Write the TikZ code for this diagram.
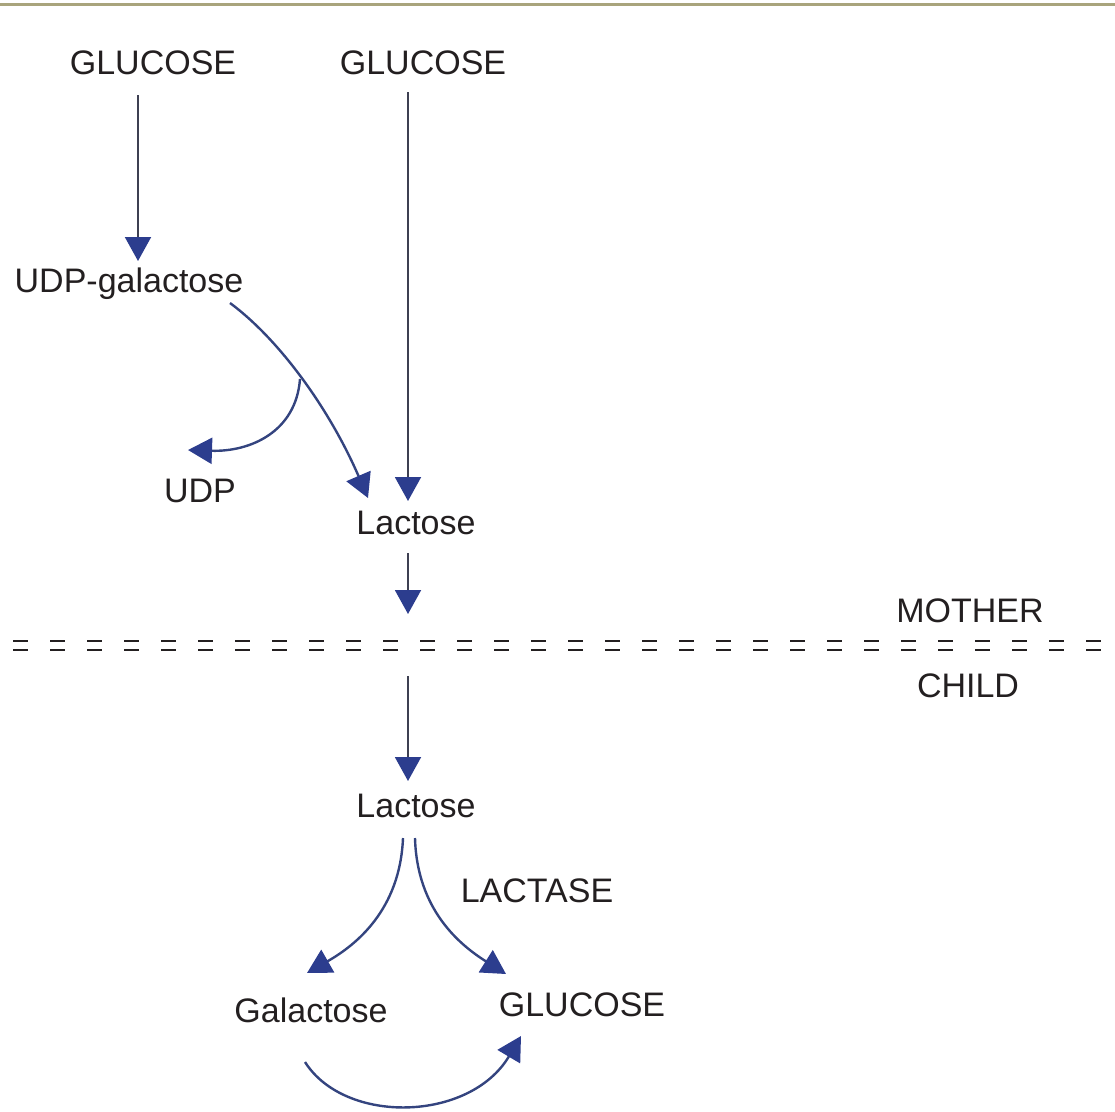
\documentclass[tikz,border=0pt]{standalone}
\usepackage{fontspec}
\setmainfont{Liberation Sans}
\usetikzlibrary{arrows.meta}
\definecolor{txt}{HTML}{231F20}
\definecolor{rule}{HTML}{A9A47C}
\definecolor{stem}{HTML}{3E4052}
\definecolor{curve}{HTML}{34447F}
\definecolor{tipblue}{HTML}{2C3D8E}
\tikzset{
  lbl/.style={anchor=base, inner sep=0pt, text=txt, font=\fontsize{34}{40}\selectfont},
  tipA/.tip={Triangle[length=24pt,width=26pt,color=tipblue]},
  straight/.style={draw=stem, line width=2pt, -tipA},
  bent/.style={draw=curve, line width=2.4pt, -tipA},
  eqline/.style={draw=txt, line width=2.2pt, dash pattern=on 15pt off 22pt}
}
\begin{document}
\begin{tikzpicture}[x=1pt,y=-1pt]
\useasboundingbox (0,0) rectangle (1115,1111);
\draw[rule, line width=3pt] (0,4) -- (1115,4);

% labels
\node[lbl] (g1) at (153,74) {GLUCOSE};
\node[lbl] (g2) at (423,74) {GLUCOSE};
\node[lbl] (udpgal) at (129,292) {UDP-galactose};
\node[lbl] (udp) at (200,502) {UDP};
\node[lbl] (lac1) at (416,534) {Lactose};
\node[lbl] (mother) at (970,622) {MOTHER};
\node[lbl] (child) at (968,697) {CHILD};
\node[lbl] (lac2) at (416,817) {Lactose};
\node[lbl] (lactase) at (537,902) {LACTASE};
\node[lbl] (galac) at (311,1022) {Galactose};
\node[lbl] (g3) at (582,1016) {GLUCOSE};

% connector end points
\coordinate (a1s) at (138,95);   \coordinate (a1e) at (138,261);
\coordinate (a2s) at (408,92);   \coordinate (a2e) at (408,501);
\coordinate (a3s) at (230,303);  \coordinate (a3e) at (368,498);
\coordinate (br)  at (300,379);  \coordinate (a4e) at (188,450);
\coordinate (a5s) at (408,553);  \coordinate (a5e) at (408,614);
\coordinate (a6s) at (408,676);  \coordinate (a6e) at (408,781);
\coordinate (a7s) at (403,838);  \coordinate (a7e) at (307,973);
\coordinate (a8s) at (415,838);  \coordinate (a8e) at (506,974);
\coordinate (a9s) at (305,1062); \coordinate (a9e) at (521,1036);

% mother / child boundary
\draw[eqline] (13,641) -- (1106,641);
\draw[eqline] (13,650) -- (1106,650);

% straight arrows
\draw[straight] (a1s) -- (a1e);
\draw[straight] (a2s) -- (a2e);
\draw[straight] (a5s) -- (a5e);
\draw[straight] (a6s) -- (a6e);

% curved arrows
\draw[bent] (a3s) .. controls (280,340) and (330,410) .. (a3e);
\draw[bent] (br) .. controls (296,432) and (250,452) .. (a4e);
\draw[bent] (a7s) .. controls (400,910) and (356,945) .. (a7e);
\draw[bent] (a8s) .. controls (417,910) and (460,945) .. (a8e);
\draw[bent] (a9s) .. controls (345,1125) and (470,1122) .. (a9e);
\end{tikzpicture}
\end{document}
